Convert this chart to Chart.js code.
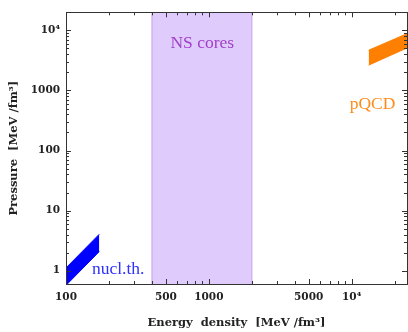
<!DOCTYPE html>
<html><head><meta charset="utf-8">
<script src="https://cdn.jsdelivr.net/npm/chart.js@4"></script>
<style>html,body{margin:0;padding:0;background:#fff}</style>
</head><body>
<canvas id="c" width="408" height="332" style="width:408px;height:332px;display:block"></canvas>
<script>
// ---- data ----
const X_RANGE = [100, 24400];            // energy density axis limits [MeV/fm^3]
const Y_RANGE = [0.6, 20000];            // pressure axis limits [MeV/fm^3]
const NS_CORES = [400, 2000];            // energy-density span of the NS-cores band
const NUCL_E = [100, 171];
const NUCL_P_LOW = [0.57, 2.08];
const NUCL_P_HIGH = [1.11, 4.04];
const PQCD_E = [13150, 24400];
const PQCD_P_LOW = [2640, 5100];
const PQCD_P_HIGH = [4670, 8820];
const X_TICKS = [100,200,300,400,500,600,700,800,900,1000,2000,3000,4000,5000,6000,7000,8000,9000,10000,20000];
const X_MAJOR = [100,500,1000,5000,10000];
const X_LABELS = {100:'100',500:'500',1000:'1000',5000:'5000',10000:'10⁴'};
const Y_TICKS = [1,2,3,4,5,6,7,8,9,10,20,30,40,50,60,70,80,90,100,200,300,400,500,600,700,800,900,1000,2000,3000,4000,5000,6000,7000,8000,9000,10000,20000];
const Y_MAJOR = [1,10,100,1000,10000];
const Y_LABELS = {1:'1',10:'10',100:'100',1000:'1000',10000:'10⁴'};
const LABELS = [
  {text:'NS cores', x:900, y:6100, color:'#a040c8', align:'center'},
  {text:'nucl.th.', x:152, y:1.04, color:'#3030ff', align:'left'},
  {text:'pQCD', x:14000, y:575, color:'#ff8c1a', align:'center'}
];

const frameTicks = {
  id:'frameTicks',
  afterDatasetsDraw(chart){
    const {ctx, chartArea:a, scales:{x,y}} = chart;
    ctx.save();
    ctx.strokeStyle = '#333';
    ctx.lineWidth = 1;
    ctx.beginPath();
    X_TICKS.forEach(v=>{
      const px = Math.round(x.getPixelForValue(v))+0.5;
      const L = X_MAJOR.includes(v)?5:3;
      ctx.moveTo(px,a.bottom); ctx.lineTo(px,a.bottom-L);
      ctx.moveTo(px,a.top); ctx.lineTo(px,a.top+L);
    });
    Y_TICKS.forEach(v=>{
      const py = Math.round(y.getPixelForValue(v))+0.5;
      const L = Y_MAJOR.includes(v)?5:3;
      ctx.moveTo(a.left,py); ctx.lineTo(a.left+L,py);
      ctx.moveTo(a.right,py); ctx.lineTo(a.right-L,py);
    });
    ctx.stroke();
    ctx.strokeRect(Math.round(a.left)+0.5, Math.round(a.top)+0.5, Math.round(a.right-a.left), Math.round(a.bottom-a.top));
    ctx.font = '17.5px "Liberation Serif"';
    ctx.textBaseline = 'middle';
    LABELS.forEach(l=>{
      ctx.fillStyle = l.color; ctx.textAlign = l.align;
      ctx.fillText(l.text, x.getPixelForValue(l.x), y.getPixelForValue(l.y));
    });
    ctx.restore();
  }
};

const pts = (xs, ys) => xs.map((v,i)=>({x:v, y:ys[i]}));

new Chart(document.getElementById('c'), {
  type:'line',
  data:{datasets:[
    {data:pts(NUCL_E,NUCL_P_HIGH), borderColor:'#0000ff', borderWidth:1, pointRadius:0, fill:false},
    {data:pts(NUCL_E,NUCL_P_LOW), borderColor:'#0000ff', borderWidth:1, pointRadius:0, fill:'-1', backgroundColor:'#0000ff'},
    {data:pts(PQCD_E,PQCD_P_HIGH), borderColor:'#ff8000', borderWidth:1, pointRadius:0, fill:false},
    {data:pts(PQCD_E,PQCD_P_LOW), borderColor:'#ff8000', borderWidth:1, pointRadius:0, fill:'-1', backgroundColor:'#ff8000'},
    {data:[{x:NS_CORES[0],y:1e-3},{x:NS_CORES[0],y:1e7},{x:NS_CORES[1],y:1e7},{x:NS_CORES[1],y:1e-3}],
     borderColor:'#cfa6f5', borderWidth:1.2, pointRadius:0, fill:'start', backgroundColor:'#e0cbfd'}
  ]},
  options:{
    responsive:false, animation:false, devicePixelRatio:1,
    layout:{padding:{top:10,right:1,left:0,bottom:0}},
    plugins:{legend:{display:false}, tooltip:{enabled:false}},
    scales:{
      x:{type:'logarithmic', min:X_RANGE[0], max:X_RANGE[1],
        grid:{display:false, drawTicks:false}, border:{display:false},
        afterBuildTicks:s=>{s.ticks = X_TICKS.map(v=>({value:v}));},
        afterFit:s=>{s.height = 48;},
        ticks:{autoSkip:false, maxRotation:0, padding:7, color:'#222',
          font:{family:'"DejaVu Serif"', weight:'bold', size:10.5},
          callback:v=>X_LABELS[v]||''},
        title:{display:true, text:'Energy  density  [MeV /fm³]', color:'#222', padding:{top:0,bottom:2},
          font:{family:'"DejaVu Serif"', weight:'bold', size:11.5}}
      },
      y:{type:'logarithmic', min:Y_RANGE[0], max:Y_RANGE[1],
        grid:{display:false, drawTicks:false}, border:{display:false},
        afterBuildTicks:s=>{s.ticks = Y_TICKS.map(v=>({value:v}));},
        afterFit:s=>{s.width = 66;},
        ticks:{autoSkip:false, padding:6, color:'#222',
          font:{family:'"DejaVu Serif"', weight:'bold', size:10.5},
          callback:v=>Y_LABELS[v]||''},
        title:{display:true, text:'Pressure  [MeV /fm³]', color:'#222', padding:{top:7,bottom:0},
          font:{family:'"DejaVu Serif"', weight:'bold', size:11.5}}
      }
    }
  },
  plugins:[frameTicks]
});
</script>
</body></html>
